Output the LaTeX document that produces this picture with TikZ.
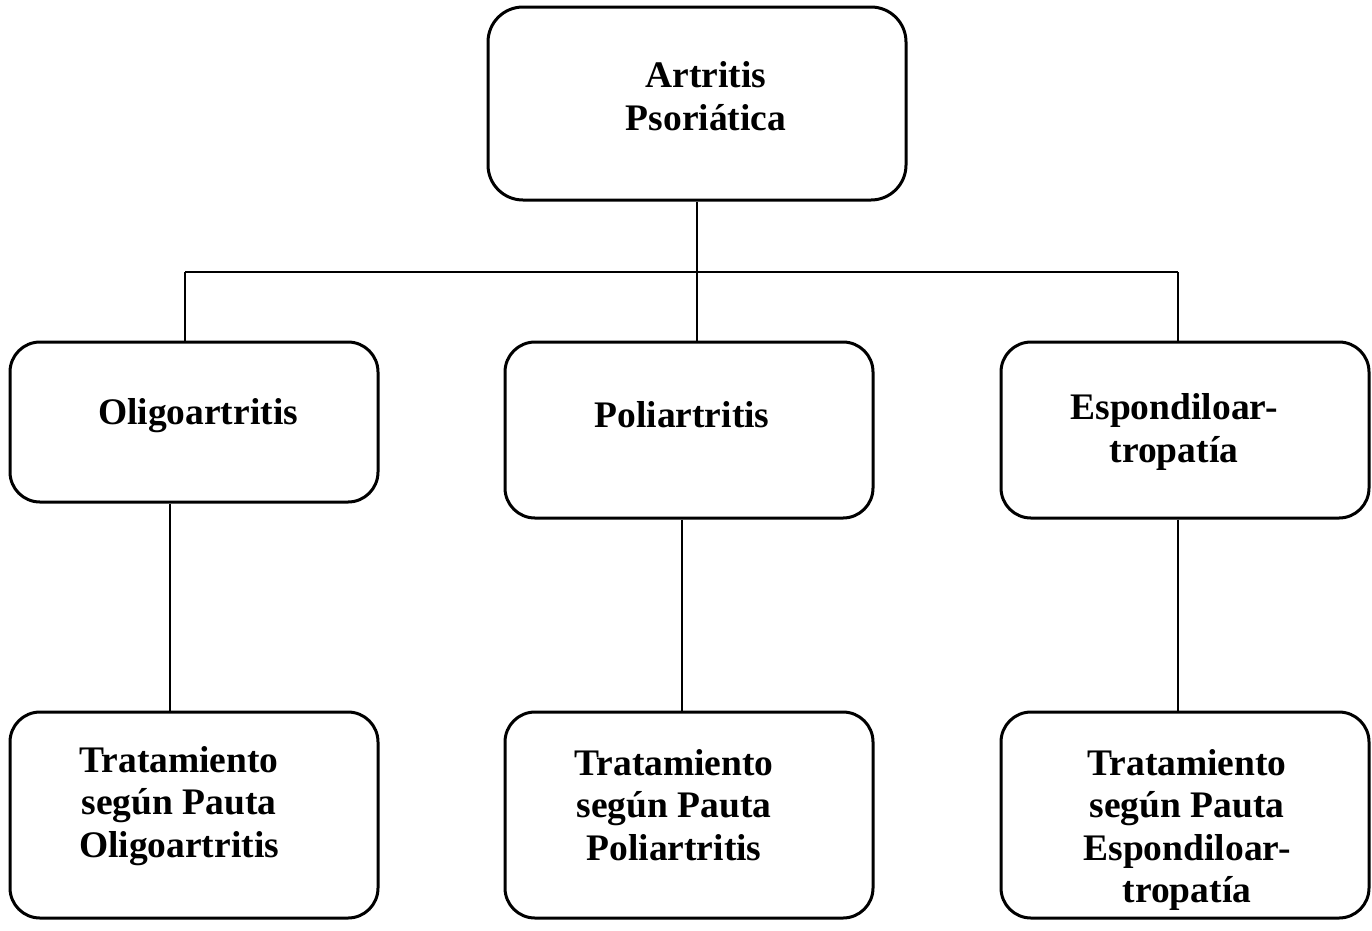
\documentclass[tikz,border=0pt]{standalone}
\usepackage{fontspec}
\setmainfont{Liberation Serif}
\begin{document}
\begin{tikzpicture}[x=1pt,y=-1pt,
  box/.style={draw=black,line width=3pt,rounded corners=30pt,inner sep=0pt},
  lbl/.style={font=\fontsize{37.5pt}{42.5pt}\selectfont\bfseries,align=center,inner sep=0pt},
  conn/.style={draw=black,line width=1.8pt}]
\useasboundingbox (0,0) rectangle (1372,930);
\fill[white] (0,0) rectangle (1372,930);
% boxes
\node[box,rounded corners=35pt,minimum width=418pt,minimum height=193pt] (top) at (697,103.5) {};
\node[box,minimum width=368pt,minimum height=160pt] (oli) at (194,422) {};
\node[box,minimum width=368pt,minimum height=176pt] (pol) at (689,430) {};
\node[box,minimum width=368pt,minimum height=176pt] (esp) at (1185,430) {};
\node[box,minimum width=368pt,minimum height=206pt] (toli) at (194,815) {};
\node[box,minimum width=368pt,minimum height=206pt] (tpol) at (689,815) {};
\node[box,minimum width=368pt,minimum height=206pt] (tesp) at (1185,815) {};
% texts
\node[lbl] (ttop) at (706,96) {Artritis\\Psoriática};
\node[lbl] (toli1) at (198,416) {Oligoartritis};
\node[lbl] (tpol1) at (682,415) {Poliartritis};
\node[lbl] (tesp1) at (1174,432) {Espondiloar-\\tropatía};
\node[lbl] (toli2) at (179,806) {Tratamiento\\según Pauta\\Oligoartritis};
\node[lbl] (tpol2) at (674,805) {Tratamiento\\según Pauta\\Poliartritis};
\node[lbl] (tesp2) at (1187,830) {Tratamiento\\según Pauta\\Espondiloar-\\tropatía};
% connectors
\coordinate (j) at (697,272);
\draw[conn] (top.south -| j) -- (j);
\draw[conn] (185,272) coordinate (jl) -- (1178,272) coordinate (jr);
\draw[conn] (jl) -- (jl |- oli.north);
\draw[conn] (j) -- (j |- pol.north);
\draw[conn] (jr) -- (jr |- esp.north);
\draw[conn] (170,0 |- oli.south) -- (170,0 |- toli.north);
\draw[conn] (682,0 |- pol.south) -- (682,0 |- tpol.north);
\draw[conn] (1178,0 |- esp.south) -- (1178,0 |- tesp.north);
\end{tikzpicture}
\end{document}
